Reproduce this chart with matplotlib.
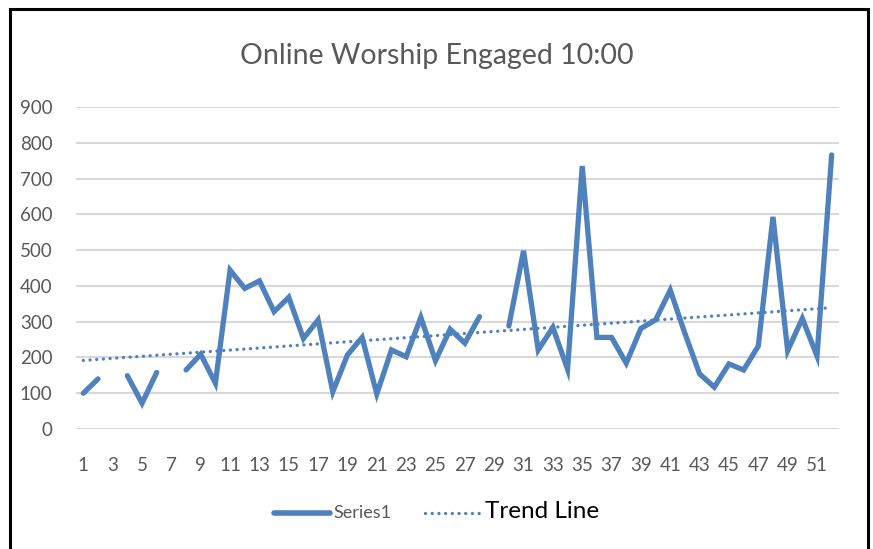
import numpy as np
import matplotlib
matplotlib.use('Agg')
from matplotlib import pyplot as plt
from matplotlib.patches import Rectangle
from matplotlib.lines import Line2D

# 周数 1..52，缺失的周用 nan
weeks = list(range(1, 53))
engaged = [100, 140, np.nan, 149, 72, 158, np.nan, 165, 209, 128,
           444, 393, 414, 328, 368, 253, 305, 104, 207, 256,
           98, 221, 202, 312, 191, 279, 240, 314, np.nan, 288,
           498, 221, 284, 167, 735, 256, 256, 184, 281, 305,
           388, 267, 154, 117, 182, 165, 232, 593, 219, 309,
           204, 766]
x_ticks = list(range(1, 53, 2))
y_ticks = list(range(0, 1000, 100))

x = np.array(weeks, dtype=float)
y = np.array(engaged, dtype=float)
ok = ~np.isnan(y)
slope, intercept = np.polyfit(x[ok], y[ok], 1)
trend = slope * x + intercept

plt.rcParams['font.family'] = ['Lato', 'DejaVu Sans']
blue = '#4F81BD'
grey = '#595959'
dots = (0, (0.01, 2.0))

fig = plt.figure(figsize=(8.73, 5.49), dpi=100)
ax = fig.add_axes([76 / 873, 1 - 429 / 549, (839 - 76) / 873, (429 - 107) / 549])

ax.plot(x, y, color=blue, lw=3.8, solid_capstyle='round', solid_joinstyle='miter', zorder=3)
ax.plot(x, trend, color=blue, lw=2.4, linestyle=dots, dash_capstyle='round', zorder=2)

ax.set_xlim(0.5, 52.5)
ax.set_ylim(0, 900)
ax.set_yticks(y_ticks)
ax.set_xticks(x_ticks)
ax.grid(axis='y', color='#D9D9D9', lw=1.5)
ax.set_axisbelow(True)
for s in ax.spines.values():
    s.set_visible(False)
ax.tick_params(length=0, labelsize=13.5, labelcolor=grey)
ax.tick_params(axis='y', pad=17)
ax.tick_params(axis='x', pad=20)

fig.text(0.5, 1 - 56 / 549, 'Online Worship Engaged 10:00', ha='center', va='center',
         fontsize=20.5, color=grey)

# 图例
h1 = Line2D([], [], color=blue, lw=4, solid_capstyle='round')
h2 = Line2D([], [], color=blue, lw=2.4, linestyle=dots, dash_capstyle='round')
leg = fig.legend([h1, h2], ['Series1', 'Trend Line'], loc='center', bbox_to_anchor=(0.5, 1 - 511 / 549),
                 ncol=2, frameon=False, handlelength=4.0, columnspacing=2.4, handletextpad=0.3)
t1, t2 = leg.get_texts()
t1.set_color(grey)
t1.set_fontsize(13)
t2.set_color('black')
t2.set_fontsize(17.5)

# 外框
fig.patches.append(Rectangle((10 / 873, -0.05), (868 - 10) / 873, 1.05 - 9 / 549,
                             transform=fig.transFigure, fill=False, ec='black', lw=2.2))

plt.savefig('out.png', dpi=100)
